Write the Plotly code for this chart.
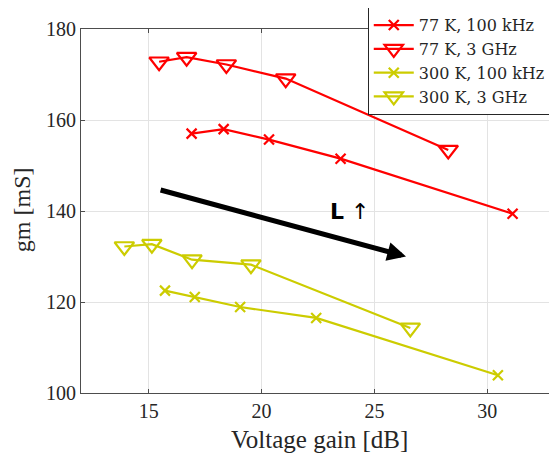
import plotly.graph_objects as go

# ---- data ----
x_77_100k = [16.90, 18.32, 20.33, 23.50, 31.12]
y_77_100k = [157.0, 158.0, 155.7, 151.5, 139.4]

x_77_3g = [15.46, 16.68, 18.44, 21.07, 28.27]
y_77_3g = [172.8, 173.8, 172.2, 169.1, 153.4]

x_300_100k = [15.72, 17.04, 19.05, 22.42, 30.47]
y_300_100k = [122.5, 121.1, 118.9, 116.5, 103.9]

x_300_3g = [13.92, 15.14, 16.92, 19.53, 26.59]
y_300_3g = [132.2, 132.7, 129.3, 128.2, 114.3]

x_ticks = [15, 20, 25, 30]
y_ticks = [100, 120, 140, 160, 180]

arrow_tail = (15.46, 144.7)
arrow_head = (26.4, 130.0)
label_pos = (23.9, 139.8)

RED = "#FF0000"
YEL = "#CCCC00"
FONT = "Liberation Serif"
TXT = "#262626"

fig = go.Figure()

def add(xs, ys, name, color, symbol, size):
    fig.add_trace(go.Scatter(
        x=xs, y=ys, name=name, mode="lines+markers",
        line=dict(color=color, width=2.2),
        marker=dict(symbol=symbol, size=size, color=color,
                    line=dict(color=color, width=2.2)),
    ))

add(x_77_100k, y_77_100k, "77 K, 100 kHz", RED, "x-thin-open", 10)
add(x_77_3g, y_77_3g, "77 K, 3 GHz", RED, "triangle-down-open", 17)
add(x_300_100k, y_300_100k, "300 K, 100 kHz", YEL, "x-thin-open", 10)
add(x_300_3g, y_300_3g, "300 K, 3 GHz", YEL, "triangle-down-open", 17)

fig.add_annotation(
    x=arrow_head[0], y=arrow_head[1], ax=arrow_tail[0], ay=arrow_tail[1],
    xref="x", yref="y", axref="x", ayref="y",
    showarrow=True, arrowhead=2, arrowsize=0.75, arrowwidth=5,
    arrowcolor="black", text="",
)
fig.add_annotation(
    x=label_pos[0], y=label_pos[1], xref="x", yref="y",
    text="<b>L</b> \u2191", showarrow=False,
    font=dict(family="DejaVu Sans", size=22, color="black"),
)
# axis titles
fig.add_annotation(
    x=0.504, y=-0.129, xref="paper", yref="paper", xanchor="center", yanchor="middle",
    text="Voltage gain [dB]", showarrow=False,
    font=dict(family=FONT, size=25, color=TXT),
)
fig.add_annotation(
    x=-0.124, y=0.503, xref="paper", yref="paper", xanchor="center", yanchor="middle",
    text="gm [mS]", showarrow=False, textangle=-90,
    font=dict(family=FONT, size=24, color=TXT),
)

axis_common = dict(
    showgrid=True, gridcolor="#E3E3E3", gridwidth=1,
    showline=True, linecolor="#4D4D4D", linewidth=1, mirror="ticks",
    ticks="inside", ticklen=4, tickcolor="#4D4D4D",
    tickfont=dict(family=FONT, size=20, color=TXT),
    zeroline=False, automargin=False,
)

# the page body has an 8px margin, so the figure is sized to sit inside it
fig.update_layout(
    width=549, height=451,
    margin=dict(l=73, r=2, t=21, b=66, autoexpand=False),
    paper_bgcolor="white", plot_bgcolor="white",
    xaxis=dict(range=[12, 33], tickvals=x_ticks, **axis_common),
    yaxis=dict(range=[100, 180], tickvals=y_ticks, **axis_common),
    legend=dict(x=0.605, y=1.06, xanchor="left", yanchor="top",
                bgcolor="white", bordercolor=TXT, borderwidth=1,
                font=dict(family="DejaVu Serif", size=16, color=TXT),
                tracegroupgap=0, itemwidth=40),
    showlegend=True,
)

fig.write_html("out.html")
